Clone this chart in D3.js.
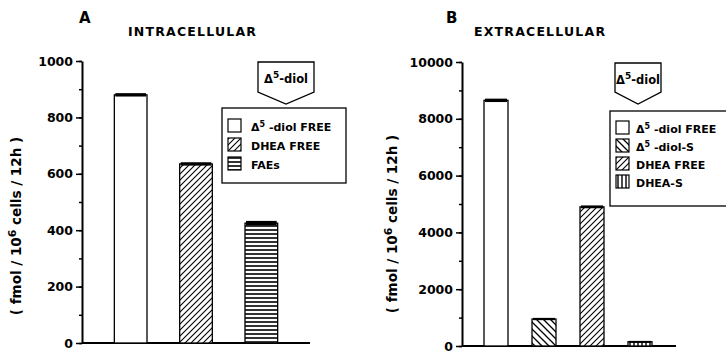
<!DOCTYPE html>
<html>
<head>
<meta charset="utf-8">
<script src="https://cdn.jsdelivr.net/npm/d3@7"></script>
<style>
  body { margin: 0; background: #fff; }
  svg { font-family: "DejaVu Sans", sans-serif; font-weight: bold; }
</style>
</head>
<body>
<svg id="chart" width="726" height="352"></svg>
<script>
// panel A - intracellular
var intraCats = ["diolFree", "dheaFree", "faes"];
var intraValues = [880, 635, 425];
var intraErr = [6, 6, 8];
var intraLabels = ["-diol FREE", "DHEA FREE", "FAEs"];
var intraTicks = [0, 200, 400, 600, 800, 1000];

// panel B - extracellular
var extraCats = ["diolFree", "diolS", "dheaFree", "dheaS"];
var extraValues = [8650, 950, 4900, 150];
var extraErr = [60, 40, 50, 30];
var extraLabels = ["-diol FREE", "-diol-S", "DHEA FREE", "DHEA-S"];
var extraTicks = [0, 2000, 4000, 6000, 8000, 10000];

var svg = d3.select("#chart");
var defs = svg.append("defs");

// hatch patterns
function hatch(id, size, draw) {
    var p = defs.append("pattern")
        .attr("id", id)
        .attr("patternUnits", "userSpaceOnUse")
        .attr("width", size).attr("height", size);
    p.append("rect").attr("width", size).attr("height", size).attr("fill", "#fff");
    draw(p);
}
hatch("fwd", 6, function(p) {
    p.append("path").attr("d", "M0,6 L6,0 M-1,1 L1,-1 M5,7 L7,5")
        .attr("stroke", "#000").attr("stroke-width", 1.1);
});
hatch("back", 7, function(p) {
    p.append("path").attr("d", "M0,0 L7,7 M-1,6 L1,8 M6,-1 L8,1")
        .attr("stroke", "#000").attr("stroke-width", 1.3);
});
hatch("horiz", 4, function(p) {
    p.append("path").attr("d", "M0,2 L4,2")
        .attr("stroke", "#000").attr("stroke-width", 1.6);
});
hatch("vert", 4, function(p) {
    p.append("path").attr("d", "M2,0 L2,4")
        .attr("stroke", "#000").attr("stroke-width", 1.4);
});

var fills = {
    diolFree: "#fff",
    dheaFree: "url(#fwd)",
    faes: "url(#horiz)",
    diolS: "url(#back)",
    dheaS: "url(#vert)"
};

function panel(opt) {
    var g = svg.append("g");
    var y = d3.scaleLinear().domain([0, opt.max]).range([opt.bottom, opt.top]);
    var x = d3.scaleBand().domain(opt.cats).range(opt.barRange)
        .paddingInner(0.5).paddingOuter(0.25);

    // minor ticks
    g.append("g")
        .attr("transform", "translate(" + opt.axisX + ",0)")
        .call(d3.axisLeft(y).tickValues(d3.range(0, opt.max + 1, opt.max / 10)).tickSize(3).tickFormat(""))
        .call(function(a) { a.select(".domain").remove(); })
        .selectAll("line").attr("stroke-width", 1.5);

    var ax = g.append("g")
        .attr("transform", "translate(" + opt.axisX + ",0)")
        .call(d3.axisLeft(y).tickValues(opt.ticks).tickFormat(d3.format("d"))
            .tickSize(6).tickSizeOuter(0).tickPadding(3));
    ax.select(".domain").attr("stroke-width", 2);
    ax.selectAll("line").attr("stroke-width", 1.5);
    ax.selectAll("text").attr("font-size", 12.5).attr("font-weight", "bold")
        .attr("font-family", "DejaVu Sans, sans-serif").attr("fill", "#000");

    // x baseline
    g.append("line")
        .attr("x1", opt.axisX).attr("x2", opt.axisEnd)
        .attr("y1", y(0)).attr("y2", y(0))
        .attr("stroke", "#000").attr("stroke-width", 2.2);

    g.selectAll("rect.bar")
        .data(opt.cats)
        .enter().append("rect")
        .attr("class", "bar")
        .attr("x", function(d) { return x(d); })
        .attr("width", x.bandwidth())
        .attr("y", function(d, i) { return y(opt.values[i]); })
        .attr("height", function(d, i) { return y(0) - y(opt.values[i]); })
        .attr("fill", function(d) { return fills[d]; })
        .attr("stroke", "#000").attr("stroke-width", 1.3);

    // error caps
    g.selectAll("rect.err")
        .data(opt.cats)
        .enter().append("rect")
        .attr("x", function(d) { return x(d) + 1; })
        .attr("width", x.bandwidth() - 2)
        .attr("y", function(d, i) { return y(opt.values[i] + opt.err[i]); })
        .attr("height", function(d, i) { return Math.max(2, y(opt.values[i] - opt.err[i]) - y(opt.values[i] + opt.err[i])); })
        .attr("fill", "#000");

    // titles
    g.append("text").attr("x", opt.letterX).attr("y", 23)
        .attr("font-size", 15).text(opt.letter);
    g.append("text").attr("x", opt.titleX).attr("y", 36)
        .attr("font-size", 12.5).attr("letter-spacing", 1.2).text(opt.title);

    // y label
    var yl = g.append("text")
        .attr("transform", "translate(" + opt.labelX + "," + opt.labelY + ") rotate(-90)")
        .attr("text-anchor", "middle").attr("font-size", 13.5);
    yl.append("tspan").text("( fmol / 10");
    yl.append("tspan").attr("dy", -5).attr("font-size", 11).text("6");
    yl.append("tspan").attr("dy", 5).text(" cells / 12h )");

    // callout pentagon
    var c = opt.callout;
    g.append("path")
        .attr("d", "M" + c.x0 + "," + c.top + "L" + c.x1 + "," + c.top + "L" + c.x1 + "," + c.side +
            "L" + c.px + "," + c.py + "L" + c.x0 + "," + c.side + "Z")
        .attr("fill", "#fff").attr("stroke", "#000").attr("stroke-width", 1.3);
    var ct = g.append("text").attr("x", (c.x0 + c.x1) / 2).attr("y", c.top + 21)
        .attr("text-anchor", "middle").attr("font-size", 11.5);
    ct.append("tspan").text("\u0394");
    ct.append("tspan").attr("dy", -5).attr("font-size", 9).text("5");
    ct.append("tspan").attr("dy", 5).text("-diol");

    // legend
    var L = opt.legend;
    g.append("rect").attr("x", L.x).attr("y", L.y).attr("width", L.w).attr("height", L.h)
        .attr("fill", "#fff").attr("stroke", "#000").attr("stroke-width", 1.3);
    var rows = g.selectAll("g.leg").data(opt.cats).enter().append("g")
        .attr("transform", function(d, i) { return "translate(" + (L.x + 6) + "," + (L.y + L.first + i * L.step) + ")"; });
    rows.append("rect").attr("x", 0).attr("y", -7).attr("width", 13).attr("height", 13)
        .attr("fill", function(d) { return fills[d]; })
        .attr("stroke", "#000").attr("stroke-width", 1.2);
    rows.each(function(d, i) {
        var t = d3.select(this).append("text").attr("x", L.textDx).attr("y", 4.5).attr("font-size", 11);
        if (opt.labels[i].charAt(0) === "-") {
            t.append("tspan").text("\u0394");
            t.append("tspan").attr("dy", -4).attr("font-size", 8).text("5");
            t.append("tspan").attr("dy", 4).text(" " + opt.labels[i]);
        } else {
            t.text(opt.labels[i]);
        }
    });
}

panel({
    cats: intraCats, values: intraValues, err: intraErr, labels: intraLabels, ticks: intraTicks,
    max: 1000, top: 61, bottom: 343, axisX: 82, axisEnd: 310, barRange: [98, 294],
    letter: "A", letterX: 79, title: "INTRACELLULAR", titleX: 128,
    labelX: 21, labelY: 226,
    callout: { x0: 258, x1: 314, top: 62, side: 92, px: 286, py: 104 },
    legend: { x: 222, y: 108, w: 124, h: 75, first: 18, step: 19, textDx: 23 }
});

panel({
    cats: extraCats, values: extraValues, err: extraErr, labels: extraLabels, ticks: extraTicks,
    max: 10000, top: 62, bottom: 346, axisX: 462, axisEnd: 676, barRange: [472, 664],
    letter: "B", letterX: 446, title: "EXTRACELLULAR", titleX: 474,
    labelX: 397, labelY: 224,
    callout: { x0: 615, x1: 661, top: 63, side: 92, px: 638, py: 104 },
    legend: { x: 610, y: 111, w: 130, h: 95, first: 17, step: 18, textDx: 20 }
});
</script>
</body>
</html>
